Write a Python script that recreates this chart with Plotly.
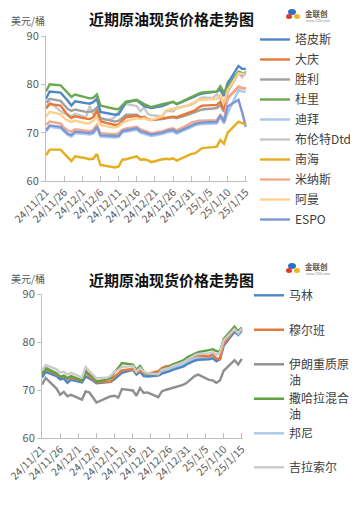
import plotly.graph_objects as go

# The page body has an 8px default margin, so the figure is 8px smaller than the window
# and every position below is given in window pixels, shifted by that margin.
OFF = 8
W, H = 358 - OFF, 505 - OFF

dates = ["2024-11-21", "2024-11-22", "2024-11-25", "2024-11-26", "2024-11-27", "2024-11-28", "2024-11-29",
         "2024-12-02", "2024-12-03", "2024-12-04", "2024-12-05", "2024-12-06",
         "2024-12-09", "2024-12-10", "2024-12-11", "2024-12-12", "2024-12-13",
         "2024-12-16", "2024-12-17", "2024-12-18", "2024-12-19", "2024-12-20",
         "2024-12-23", "2024-12-24", "2024-12-25", "2024-12-26", "2024-12-27",
         "2024-12-30", "2024-12-31", "2025-01-01", "2025-01-02", "2025-01-03",
         "2025-01-06", "2025-01-07", "2025-01-08", "2025-01-09", "2025-01-10",
         "2025-01-13", "2025-01-14", "2025-01-15"]

tick_vals = ["2024-11-21", "2024-11-26", "2024-12-01", "2024-12-06", "2024-12-11", "2024-12-16",
             "2024-12-21", "2024-12-26", "2024-12-31", "2025-01-05", "2025-01-10", "2025-01-15"]
tick_text = ["24/11/21", "24/11/26", "24/12/1", "24/12/6", "24/12/11", "24/12/16",
             "24/12/21", "24/12/26", "24/12/31", "25/1/5", "25/1/10", "25/1/15"]

# ---- top chart series ----
tapis = [77.0, 78.5, 78.3, 77.5, 76.6, 75.6, 76.5, 76.1, 76.0, 76.3, 77.0, 74.3, 73.8, 73.7, 73.8, 75.2, 76.3,
         76.7, 76.0, 75.5, 75.3, 75.1, 75.5, 75.8, 76.0, 76.4, 75.9, 76.8, 77.2, 77.5, 77.9, 78.1, 78.4, 78.5,
         78.9, 77.6, 80.2, 83.8, 83.2, 83.2]
daqing = [75.0, 75.9, 75.6, 74.5, 73.6, 73.0, 73.4, 72.9, 72.8, 73.2, 74.6, 72.3, 71.7, 71.6, 71.7, 72.5, 73.2,
          73.5, 73.1, 73.3, 72.8, 72.6, 72.9, 73.0, 73.2, 73.3, 73.2, 74.0, 74.3, 74.6, 75.2, 75.6, 75.7, 75.7,
          76.4, 74.7, 77.1, 79.5, 79.2, 79.2]
shengli = [76.2, 77.0, 76.6, 75.7, 74.9, 74.5, 74.8, 74.3, 74.3, 74.5, 75.2, 73.0, 72.4, 72.3, 72.5, 73.0, 73.7,
           73.7, 73.2, 73.2, 72.8, 72.6, 72.8, 73.0, 73.1, 73.2, 73.0, 73.7, 74.0, 74.3, 74.6, 74.8, 75.0, 75.1,
           75.7, 74.3, 78.5, 82.3, 82.0, 82.3]
duri = [78.5, 80.0, 79.8, 79.0, 78.2, 77.4, 77.9, 77.3, 77.1, 77.2, 77.9, 75.6, 75.0, 74.9, 74.9, 75.6, 76.4,
        76.8, 76.3, 75.9, 75.6, 75.3, 75.9, 76.1, 76.3, 76.4, 75.9, 76.9, 77.3, 77.7, 78.1, 78.3, 78.5, 78.5,
        79.6, 78.3, 79.5, 82.6, 82.3, 82.0]
dubai = [70.2, 71.2, 70.9, 70.1, 69.5, 69.2, 69.9, 69.7, 69.6, 69.8, 70.9, 69.2, 69.0, 69.0, 69.1, 70.0, 70.2,
         70.6, 70.0, 69.8, 69.5, 69.3, 69.7, 70.0, 70.2, 70.2, 69.8, 70.8, 71.2, 71.5, 71.7, 71.8, 71.9, 71.9,
         73.3, 71.9, 74.0, 78.8, 78.5, 78.5]
brent = [75.3, 76.3, 74.5, 74.0, 73.8, 73.4, 73.9, 73.2, 75.5, 73.8, 73.3, 72.5, 72.8, 73.2, 74.5, 75.2, 75.9,
         75.5, 74.4, 75.2, 73.9, 73.6, 73.4, 74.4, 74.5, 74.4, 75.2, 75.6, 75.8, 76.2, 76.9, 77.3, 77.2, 77.9,
         77.0, 78.0, 80.5, 82.4, 81.5, 82.8]
nanhai = [65.3, 66.5, 66.5, 65.6, 64.9, 64.1, 65.1, 64.7, 64.5, 64.6, 65.6, 63.3, 62.9, 62.8, 63.0, 64.4, 64.5,
          65.1, 64.4, 64.5, 64.3, 63.9, 64.5, 64.6, 64.5, 64.7, 64.2, 65.3, 65.6, 65.7, 66.2, 66.8, 67.0, 67.1,
          68.5, 67.7, 70.0, 72.3, 72.0, 71.6]
minas = [71.6, 72.3, 71.9, 71.0, 70.5, 70.2, 70.7, 70.4, 70.3, 70.6, 71.6, 69.9, 69.7, 69.7, 69.9, 70.6, 70.9,
         71.2, 70.7, 70.4, 70.1, 69.9, 70.3, 70.6, 70.8, 70.9, 70.5, 71.6, 72.1, 72.3, 72.5, 72.5, 72.6, 72.6,
         73.7, 72.6, 77.1, 79.5, 79.3, 79.2]
oman = [73.3, 74.3, 73.8, 73.0, 72.5, 72.2, 72.5, 71.9, 72.0, 72.5, 73.2, 71.6, 71.1, 71.1, 71.3, 72.0, 72.4,
        73.0, 72.8, 73.0, 72.7, 72.6, 73.4, 74.6, 74.8, 75.0, 75.0, 75.6, 76.0, 76.3, 76.7, 76.8, 76.9, 77.0,
        77.8, 76.1, 78.8, 82.3, 82.2, 82.0]
espo = [70.5, 71.5, 71.2, 70.4, 69.8, 69.5, 70.2, 70.0, 69.9, 70.1, 71.2, 69.5, 69.3, 69.3, 69.4, 70.3, 70.5,
        70.9, 70.3, 70.1, 69.8, 69.6, 70.0, 70.3, 70.5, 70.6, 70.1, 71.1, 71.5, 71.8, 72.0, 72.1, 72.2, 72.2,
        73.6, 72.2, 75.4, 76.8, 74.2, 71.2]

# ---- bottom chart series ----
marlin = [72.6, 73.8, 72.9, 72.2, 72.4, 71.5, 72.1, 71.6, 72.8, 72.4, 72.0, 71.4, 71.6, 71.7, 72.3, 73.0, 73.6,
          74.2, 73.2, 73.8, 72.9, 72.8, 73.0, 73.4, 73.6, 73.9, 74.2, 74.9, 75.4, 75.8, 76.1, 76.3, 76.4, 76.6,
          76.0, 76.4, 79.2, 82.2, 81.6, 82.4]
murban = [73.5, 74.4, 73.3, 72.7, 72.9, 72.3, 72.6, 71.9, 74.2, 72.8, 72.4, 71.6, 71.7, 71.8, 72.8, 73.5, 74.1,
          74.3, 73.6, 74.0, 73.5, 73.4, 73.9, 74.6, 74.9, 75.0, 75.3, 76.0, 76.4, 76.7, 77.0, 77.2, 77.0, 77.4,
          76.5, 76.4, 79.6, 82.6, 82.0, 82.6]
iran_heavy = [71.1, 72.5, 70.3, 69.0, 69.6, 68.7, 69.0, 68.0, 69.7, 69.5, 68.5, 67.4, 68.4, 68.7, 68.8, 68.4,
              70.2, 69.9, 68.8, 70.4, 69.4, 69.5, 68.5, 69.7, 70.0, 70.2, 70.5, 71.1, 71.6, 72.3, 72.9, 73.2,
              72.1, 72.0, 71.5, 72.0, 74.0, 76.2, 75.3, 76.5]
saharan = [73.2, 74.6, 73.5, 72.8, 73.0, 72.5, 72.9, 72.0, 73.8, 73.3, 72.8, 71.8, 72.2, 72.6, 73.8, 74.6, 75.6,
           75.3, 74.2, 75.0, 73.8, 73.3, 73.4, 74.2, 74.5, 74.8, 75.3, 76.2, 76.8, 77.2, 77.6, 77.9, 78.3, 78.5,
           78.1, 78.0, 80.6, 83.2, 82.2, 83.0]
bonny = [73.0, 74.2, 73.3, 72.6, 72.8, 72.1, 72.5, 71.8, 73.3, 72.9, 72.5, 71.7, 71.9, 72.0, 72.8, 73.4, 74.0,
         74.5, 73.5, 74.1, 73.3, 73.1, 73.2, 73.7, 73.9, 74.2, 74.6, 75.3, 75.8, 76.2, 76.5, 76.7, 76.8, 77.0,
         76.5, 76.8, 79.5, 82.0, 81.4, 82.2]
girassol = [74.0, 75.2, 74.3, 73.6, 73.8, 73.2, 73.6, 72.6, 74.8, 74.0, 73.4, 72.4, 72.6, 73.0, 73.9, 74.2, 74.8,
            75.0, 73.8, 74.6, 73.8, 73.5, 73.3, 74.2, 74.4, 74.6, 75.0, 75.8, 76.3, 76.8, 77.2, 77.5, 77.6, 77.9,
            77.3, 77.8, 80.3, 82.7, 81.8, 82.8]

top_names = ["塔皮斯", "大庆", "胜利", "杜里", "迪拜", "布伦特Dtd", "南海", "米纳斯", "阿曼", "ESPO"]
top_values = [tapis, daqing, shengli, duri, dubai, brent, nanhai, minas, oman, espo]
top_colors = ["#4f86c6", "#e5793a", "#a0a0a0", "#6aa84f", "#a9c8ea", "#c8c8c8", "#e6ad1c", "#f3a98e",
              "#fcd08e", "#7d97d6"]
top_draw = [5, 2, 0, 3, 1, 8, 7, 4, 9, 6]

bot_names = ["马林", "穆尔班", "伊朗重质原<br>油", "撒哈拉混合<br>油", "邦尼", "吉拉索尔"]
bot_values = [marlin, murban, iran_heavy, saharan, bonny, girassol]
bot_colors = ["#4f86c6", "#e5793a", "#8f8f8f", "#5fa043", "#a9c8ea", "#cbcbcb"]
bot_draw = [4, 0, 1, 3, 5, 2]


def px(x):
    return (x - OFF) / W


def py(y):
    return 1 - (y - OFF) / H


FONT = "Noto Sans CJK SC"
fig = go.Figure()

for i in top_draw:
    fig.add_trace(go.Scatter(
        x=dates, y=top_values[i], name=top_names[i], mode="lines",
        line=dict(color=top_colors[i], width=2.4),
        xaxis="x", yaxis="y", legend="legend", legendgroup=top_names[i],
        legendrank=i + 1,
    ))

for i in bot_draw:
    fig.add_trace(go.Scatter(
        x=dates, y=bot_values[i], name=bot_names[i], mode="lines",
        line=dict(color=bot_colors[i], width=2.4),
        xaxis="x2", yaxis="y2", legend="legend%d" % (i + 2),
    ))

axis_common = dict(showgrid=False, zeroline=False, showline=True, linecolor="#bfbfbf", linewidth=1)
xcommon = dict(axis_common, type="date", range=["2024-11-21", "2025-01-15 08:00"], tickmode="array",
               tickvals=tick_vals, ticktext=tick_text, tickangle=-45, ticks="inside", ticklen=5,
               tickcolor="#bfbfbf", ticklabeloverflow="allow",
               tickfont=dict(family=FONT, size=10.5, color="#595959"))
ycommon = dict(axis_common, range=[60, 90], dtick=10, ticks="outside", ticklen=4, tickcolor="#bfbfbf",
               tickfont=dict(family=FONT, size=11, color="#595959"))

leg_font = dict(family=FONT, size=12, color="#404040")
layout_legends = {}
layout_legends["legend"] = dict(x=px(255), y=py(25), xanchor="left", yanchor="top", font=leg_font,
                                traceorder="grouped", tracegroupgap=1.0, bgcolor="rgba(0,0,0,0)")
bot_tops = [281, 315.5, 350, 384.5, 419, 453]
for k in range(6):
    layout_legends["legend%d" % (k + 2)] = dict(x=px(249), y=py(bot_tops[k]), xanchor="left", yanchor="top",
                                                font=leg_font, valign="top", bgcolor="rgba(0,0,0,0)")

annotations = []
for yt, yu, yl in [(18, 21, 13.5), (279, 278.5, 266)]:
    annotations.append(dict(text="<b>近期原油现货价格走势图</b>", x=px(171), y=py(yt), xref="paper", yref="paper",
                            xanchor="center", yanchor="middle", showarrow=False,
                            font=dict(family=FONT, size=15, color="#111111")))
    annotations.append(dict(text="美元/桶", x=px(28), y=py(yu), xref="paper", yref="paper",
                            xanchor="center", yanchor="middle", showarrow=False,
                            font=dict(family=FONT, size=10, color="#595959")))
    annotations.append(dict(text="<b>金联创</b>", x=px(303), y=py(yl), xref="paper", yref="paper",
                            xanchor="left", yanchor="middle", showarrow=False,
                            font=dict(family=FONT, size=7.5, color="#555555")))
    annotations.append(dict(text="www.315i.com", x=px(304), y=py(yl + 7.5), xref="paper", yref="paper",
                            xanchor="left", yanchor="middle", showarrow=False,
                            font=dict(family=FONT, size=3.5, color="#888888")))

shapes = []
for yc in [14, 268]:
    shapes.append(dict(type="circle", xref="paper", yref="paper", x0=px(288), x1=px(296), y0=py(yc + 1),
                       y1=py(yc - 5), fillcolor="#2f6fc4", line=dict(width=0)))
    shapes.append(dict(type="circle", xref="paper", yref="paper", x0=px(286), x1=px(292), y0=py(yc + 5),
                       y1=py(yc), fillcolor="#e03a2f", line=dict(width=0)))
    shapes.append(dict(type="circle", xref="paper", yref="paper", x0=px(294), x1=px(300), y0=py(yc + 5),
                       y1=py(yc), fillcolor="#f2b51c", line=dict(width=0)))

fig.update_layout(
    width=W, height=H, margin=dict(l=0, r=0, t=0, b=0, pad=0, autoexpand=False),
    paper_bgcolor="white", plot_bgcolor="white", showlegend=True,
    font=dict(family=FONT),
    xaxis=dict(xcommon, domain=[px(46), px(247)], anchor="y"),
    yaxis=dict(ycommon, domain=[py(181), py(36)], anchor="x"),
    xaxis2=dict(xcommon, domain=[px(42), px(243)], anchor="y2"),
    yaxis2=dict(ycommon, domain=[py(438), py(294)], anchor="x2"),
    annotations=annotations, shapes=shapes,
    **layout_legends,
)

fig.write_html("out.html")
